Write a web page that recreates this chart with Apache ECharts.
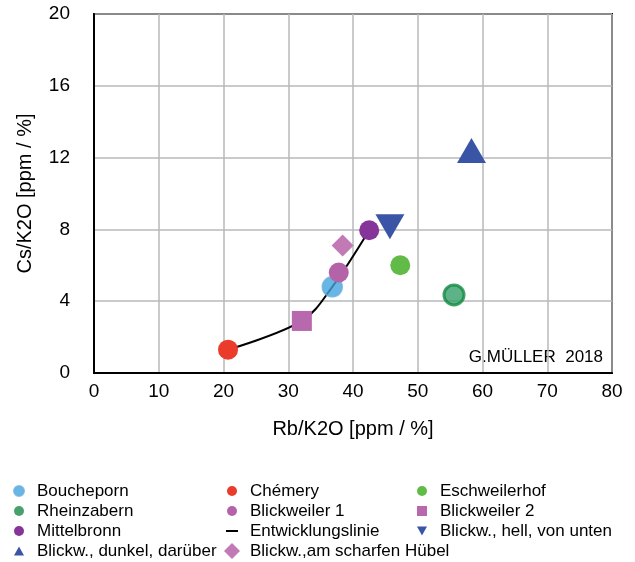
<!DOCTYPE html>
<html><head><meta charset="utf-8">
<script src="https://cdn.jsdelivr.net/npm/echarts@6/dist/echarts.min.js"></script>
<style>html,body{margin:0;padding:0;background:#fff}#c{width:635px;height:562px}</style>
</head><body><div id="c"></div>
<script>
// ---- data ----
const names = ["Boucheporn","Chémery","Eschweilerhof","Rheinzabern","Blickweiler 1","Blickweiler 2","Mittelbronn","Entwicklungslinie","Blickw., hell, von unten","Blickw., dunkel, darüber","Blickw.,am scharfen Hübel"];
const boucheporn = [[36.8, 4.8]];
const chemery = [[20.7, 1.3]];
const eschweilerhof = [[47.3, 6.0]];
const rheinzabern = [[55.6, 4.35]];
const blickweiler1 = [[37.8, 5.6]];
const blickweiler2 = [[32.1, 2.9]];
const mittelbronn = [[42.5, 7.95]];
const entwicklungslinie = [[20.7, 1.3], [32.1, 2.9], [36.8, 4.8], [42.5, 7.95]];
const blickwHell = [[45.7, 8.15]];
const blickwDunkel = [[58.3, 12.4]];
const blickwHuebel = [[38.4, 7.1]];
const xTicks = [0, 10, 20, 30, 40, 50, 60, 70, 80];
const yTicks = [0, 4, 8, 12, 16, 20];
const xTitle = "Rb/K2O [ppm / %]";
const yTitle = "Cs/K2O [ppm / %]";
const credit = "G.MÜLLER  2018";

const FONT = "'Liberation Sans', Arial, Helvetica, sans-serif";
const chart = echarts.init(document.getElementById('c'), null, {renderer: 'canvas'});

function sc(name, data, color, symbol, size, extra) {
  return Object.assign({
    name: name, type: 'scatter', data: data, symbol: symbol, symbolSize: size,
    itemStyle: {color: color, opacity: 1}, z: 3
  }, extra || {});
}

const ICON_DOWN = 'path://M0,0L10,0L5,9Z';
const ICON_UP = 'path://M5,0L10,9L0,9Z';
const ICON_LINE = 'path://M0,0L12,0L12,2L0,2Z';

const legendBase = {
  orient: 'vertical', padding: 0, itemGap: 3, itemWidth: 10, itemHeight: 10, symbolKeepAspect: true,
  textStyle: {fontFamily: FONT, fontSize: 17, color: '#000', padding: [0,0,0,8]},
  selectedMode: false
};

const option = {
  animation: false,
  backgroundColor: '#fff',
  grid: {left: 94, right: 23, top: 14, bottom: 189, show: true, borderColor: '#000', borderWidth: 2, backgroundColor: 'transparent'},
  xAxis: {
    type: 'value', min: xTicks[0], max: xTicks[xTicks.length-1], interval: 10,
    name: xTitle, nameLocation: 'middle', nameGap: 46,
    nameTextStyle: {fontFamily: FONT, fontSize: 20, color: '#000'},
    axisLine: {show: true, onZero: false, lineStyle: {color: '#000', width: 2}},
    axisTick: {show: false},
    axisLabel: {fontFamily: FONT, fontSize: 19, color: '#000', margin: 9},
    splitLine: {show: true, lineStyle: {color: '#b7b8bb', width: 1.5}}
  },
  yAxis: {
    type: 'value', min: yTicks[0], max: yTicks[yTicks.length-1], interval: 4,
    name: yTitle, nameLocation: 'middle', nameGap: 59, nameRotate: 90,
    nameTextStyle: {fontFamily: FONT, fontSize: 20, color: '#000'},
    axisLine: {show: true, onZero: false, lineStyle: {color: '#000', width: 2}},
    axisTick: {show: false},
    axisLabel: {fontFamily: FONT, fontSize: 19, color: '#000', margin: 24},
    splitLine: {show: true, lineStyle: {color: '#b7b8bb', width: 1.5}}
  },
  legend: [
    Object.assign({}, legendBase, {left: 13, top: 482.5, data: [names[0],
      {name: names[3], itemStyle: {color: '#1a8a47', borderWidth: 0}}, names[6], {name: names[9], icon: ICON_UP}]}),
    Object.assign({}, legendBase, {left: 227, top: 482.5, data: [names[1], names[4]]}),
    Object.assign({}, legendBase, {left: 226, top: 522.5, itemWidth: 12, itemHeight: 10,
      textStyle: {fontFamily: FONT, fontSize: 17, color: '#000', padding: [0,0,0,7]}, data: [{name: names[7], icon: ICON_LINE}]}),
    Object.assign({}, legendBase, {left: 224, top: 542.5, itemWidth: 16, itemHeight: 16,
      textStyle: {fontFamily: FONT, fontSize: 17, color: '#000', padding: [0,0,0,5]}, data: [names[10]]}),
    Object.assign({}, legendBase, {left: 417, top: 482.5, data: [names[2], names[5], {name: names[8], icon: ICON_DOWN}]})
  ],
  graphic: [{
    type: 'text', right: 32, top: 349,
    style: {text: credit, font: '17px ' + FONT, fill: '#000'}
  }],
  series: [
    {name: names[7], type: 'line', data: entwicklungslinie, smooth: 0.35, symbol: 'none',
     lineStyle: {color: '#000', width: 2}, itemStyle: {color: '#000'}, z: 2},
    sc(names[0], boucheporn, '#44a2dc', 'circle', 20, {itemStyle: {color: '#44a2dc', borderColor: '#69b0e2', borderWidth: 1.5}}),
    sc(names[1], chemery, '#ea3b2b', 'circle', 20),
    sc(names[2], eschweilerhof, '#63bb47', 'circle', 20),
    sc(names[3], rheinzabern, '#2f9c66', 'circle', 20, {itemStyle: {color: '#34a069', borderColor: '#138a40', borderWidth: 3}}),
    sc(names[4], blickweiler1, '#b463a8', 'circle', 20),
    sc(names[5], blickweiler2, '#b868ad', 'rect', 20),
    sc(names[6], mittelbronn, '#86349a', 'circle', 20),
    sc(names[8], blickwHell, '#3a55a6', 'triangle', [29, 25], {symbolRotate: 180}),
    sc(names[9], blickwDunkel, '#3a55a6', 'triangle', [29, 25]),
    sc(names[10], blickwHuebel, '#c27ab6', 'diamond', 22)
  ]
};
chart.setOption(option);
</script>
</body></html>
